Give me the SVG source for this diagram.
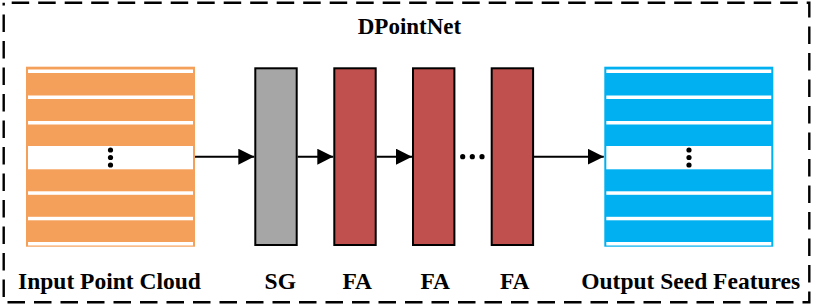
<svg xmlns="http://www.w3.org/2000/svg" width="813" height="306" viewBox="0 0 813 306">
<style>
  text { font-family: 'Liberation Serif', 'Times New Roman', Times, 'DejaVu Serif', serif; font-weight: 700; font-size: 23.5px; fill: #000; text-anchor: middle; }
  .stripe { fill: #ffffff; }
  .blk { stroke: #000; stroke-width: 2; }
  .conn { stroke: #000; stroke-width: 2; fill: none; marker-end: url(#arr); }
  .dot { fill: #000; }
</style>
<defs>
  <marker id="arr" markerUnits="userSpaceOnUse" markerWidth="16" markerHeight="16" refX="16" refY="8" orient="auto" viewBox="0 0 16 16">
    <path d="M0,0 L16,8 L0,16 z" fill="#000"/>
  </marker>
  <g id="stripes">
    <rect class="stripe" x="2" y="2.8" width="165" height="3.5"/>
    <rect class="stripe" x="2" y="28.8" width="165" height="3.5"/>
    <rect class="stripe" x="2" y="54.3" width="165" height="3.5"/>
    <rect class="stripe" x="2" y="79.3" width="165" height="23.3"/>
    <rect class="stripe" x="2" y="124.6" width="165" height="3.5"/>
    <rect class="stripe" x="2" y="150.1" width="165" height="3.5"/>
    <rect class="stripe" x="2" y="175.3" width="165" height="3.5"/>
  </g>
</defs>
<rect x="3.7" y="2.7" width="805.6" height="299.6" fill="none" stroke="#000" stroke-width="2.4" stroke-dasharray="17.5 9" stroke-dashoffset="-8"/>
<text x="409.5" y="34" font-family="Liberation Serif, serif" style="font-size:23px">DPointNet</text>

<g id="input">
  <rect x="26" y="66.7" width="169" height="180" fill="#f5a05a"/>
  <use href="#stripes" x="26" y="66.7"/>
  <circle class="dot" cx="110.5" cy="150" r="2.6"/>
  <circle class="dot" cx="110.5" cy="157.5" r="2.6"/>
  <circle class="dot" cx="110.5" cy="165" r="2.6"/>
  <text x="109.5" y="289" font-family="Liberation Serif, serif">Input Point Cloud</text>
</g>

<g id="sg">
  <rect class="blk" x="255.3" y="68.3" width="41.4" height="176.7" fill="#a6a6a6"/>
  <text x="280.3" y="289" font-family="Liberation Serif, serif">SG</text>
</g>
<g id="fa1">
  <rect class="blk" x="334.3" y="68.3" width="41.4" height="176.7" fill="#c0504d"/>
  <text x="357.2" y="289" font-family="Liberation Serif, serif">FA</text>
</g>
<g id="fa2">
  <rect class="blk" x="413" y="68.3" width="41.4" height="176.7" fill="#c0504d"/>
  <text x="435.3" y="289" font-family="Liberation Serif, serif">FA</text>
</g>
<g id="fa3">
  <rect class="blk" x="491.7" y="68.3" width="41.4" height="176.7" fill="#c0504d"/>
  <text x="514.7" y="289" font-family="Liberation Serif, serif">FA</text>
</g>

<g id="output">
  <rect x="604.3" y="66.7" width="169" height="180" fill="#00b0f0"/>
  <use href="#stripes" x="604.3" y="66.7"/>
  <circle class="dot" cx="689" cy="150" r="2.6"/>
  <circle class="dot" cx="689" cy="157.5" r="2.6"/>
  <circle class="dot" cx="689" cy="165" r="2.6"/>
  <text x="690.7" y="289" font-family="Liberation Serif, serif">Output Seed Features</text>
</g>

<g id="connectors">
  <line class="conn" x1="195" y1="156.7" x2="254.3" y2="156.7"/>
  <line class="conn" x1="297.7" y1="156.7" x2="333.3" y2="156.7"/>
  <line class="conn" x1="376.7" y1="156.7" x2="412" y2="156.7"/>
  <line class="conn" x1="534" y1="156.7" x2="603.8" y2="156.7"/>
  <circle class="dot" cx="462.7" cy="156.7" r="2.6"/>
  <circle class="dot" cx="472.3" cy="156.7" r="2.6"/>
  <circle class="dot" cx="482" cy="156.7" r="2.6"/>
</g>
</svg>
